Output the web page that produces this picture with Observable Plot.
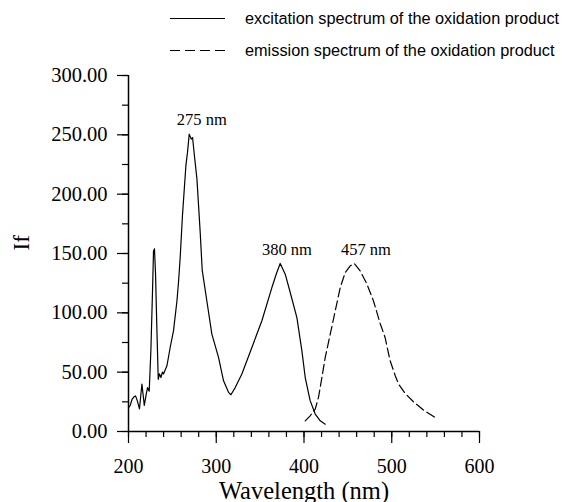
<!DOCTYPE html>
<html><head><meta charset="utf-8">
<script src="https://cdn.jsdelivr.net/npm/d3@7"></script>
<script src="https://cdn.jsdelivr.net/npm/@observablehq/plot@0.6"></script>
<style>
body{margin:0;background:#fff;}
#legend{position:relative;height:58px;width:562px;font-family:"Liberation Sans",Arial,Helvetica,sans-serif;font-size:16.3px;color:#000;}
.row{position:absolute;left:0;height:20px;width:562px;}
.row svg{position:absolute;left:170px;top:0;}
.row span{position:absolute;left:245px;top:0;line-height:20px;white-space:nowrap;}
</style></head><body>
<div id="legend"></div>
<div id="chart"></div>
<script>
// Excitation spectrum (solid)
const exWl = [200,202,204,206,208,210,212.5,215.3,218,220.2,221.7,223.6,225.5,227.4,228.5,229.6,230.8,232.4,233.9,235.3,236.9,238.7,239.9,243.8,247.5,251.3,255.2,257,258.9,261.5,265.4,267.2,269.2,271.5,273,275.2,278,281.7,284,289.3,295,302.6,308.3,314,316.7,321.6,329.2,340.6,352,363.4,369,372.9,378.6,384,391.9,397.6,401.4,407,412.8,418.5,424.2];
const exIf = [20,22,27,29,30,26,19,40,22,31.5,37,34,68,119,152,154,133,85,44,48.5,45.5,50,48.5,55.4,70.8,85,110,126,146.6,182,224,235,250.6,246.4,247.7,232,212.7,168,136,110,82,62.4,42.7,33,31,37,48.4,70.8,93.3,121.3,134,141.6,132.6,118,96,68,45.5,26,14.7,9,6.2];
// Emission spectrum (dashed)
const emWl = [401.4,407,412.8,416.5,420.4,424.2,429.9,435.6,441.3,447,452.7,457.2,464,471.7,479.2,486.8,492.5,498,504,507.8,515.3,524.8,536.2,549.5];
const emIf = [9,13.2,18.9,28.7,45.5,62.4,82,101.7,121.3,134,139.6,141.6,135.4,124.2,110,91,79,60,47,40,32,25,18,11.8];
// Peak annotations
const peakLabels = ["275 nm","380 nm","457 nm"];
const peakWl = [283.6,380.5,470.5];
const peakIf = [258,149,149];
// Ticks
const xTicks = [200,300,400,500,600];
const yTicks = [0,50,100,150,200,250,300];
const legendLabels = ["excitation spectrum of the oxidation product","emission spectrum of the oxidation product"];

const legend = document.getElementById("legend");
legendLabels.forEach((lab,i)=>{
  const row = document.createElement("div");
  row.className = "row";
  row.style.top = (i===0 ? 8 : 40) + "px";
  row.innerHTML = `<svg width="56" height="20"><line x1="0" x2="55" y1="10.5" y2="10.5" stroke="#000" stroke-width="1.2" ${i===1?'stroke-dasharray="10,5"':''}/></svg><span>${lab}</span>`;
  legend.appendChild(row);
});

const ex = exWl.map((w,i)=>({w, v: exIf[i]}));
const em = emWl.map((w,i)=>({w, v: emIf[i]}));
const serif = "'Liberation Serif','Times New Roman',Times,serif";

const chart = Plot.plot({
  width: 562, height: 444,
  marginLeft: 128, marginRight: 83, marginTop: 17, marginBottom: 71,
  style: {fontFamily: serif, background: "#fff", overflow: "visible", color: "#000"},
  x: {domain: [200,600]},
  y: {domain: [0,300]},
  marks: [
    Plot.axisX({ticks: d3.range(200,601,20), tickSize: 6, tickFormat: () => "", label: null, strokeWidth: 1.2}),
    Plot.axisX({ticks: xTicks, tickSize: 12, tickPadding: 15, tickFormat: d => String(d), fontSize: 20, label: null, strokeWidth: 1.2}),
    Plot.axisY({ticks: d3.range(0,301,25), tickSize: 6, tickFormat: () => "", label: null, strokeWidth: 1.2}),
    Plot.axisY({ticks: yTicks, tickSize: 11, tickPadding: 10, tickFormat: d => d.toFixed(2), fontSize: 20.5, label: null, strokeWidth: 1.2}),
    Plot.ruleY([0], {stroke: "#000", strokeWidth: 1.5}),
    Plot.ruleX([200], {stroke: "#000", strokeWidth: 1.5}),
    Plot.line(ex, {x: "w", y: "v", stroke: "#000", strokeWidth: 1.2}),
    Plot.line(em, {x: "w", y: "v", stroke: "#000", strokeWidth: 1.2, strokeDasharray: "9,4"}),
    Plot.text(peakLabels, {x: peakWl, y: peakIf, text: d => d, lineAnchor: "bottom", fontSize: 16.5, fill: "#000"}),
    Plot.text(["Wavelength (nm)"], {frameAnchor: "bottom", dy: 67, fontSize: 24.5, fill: "#000"}),
    Plot.text(["If"], {frameAnchor: "left", dx: -107, dy: -3, rotate: -90, fontSize: 23, fill: "#000"})
  ]
});
document.getElementById("chart").appendChild(chart);
</script>
</body></html>
